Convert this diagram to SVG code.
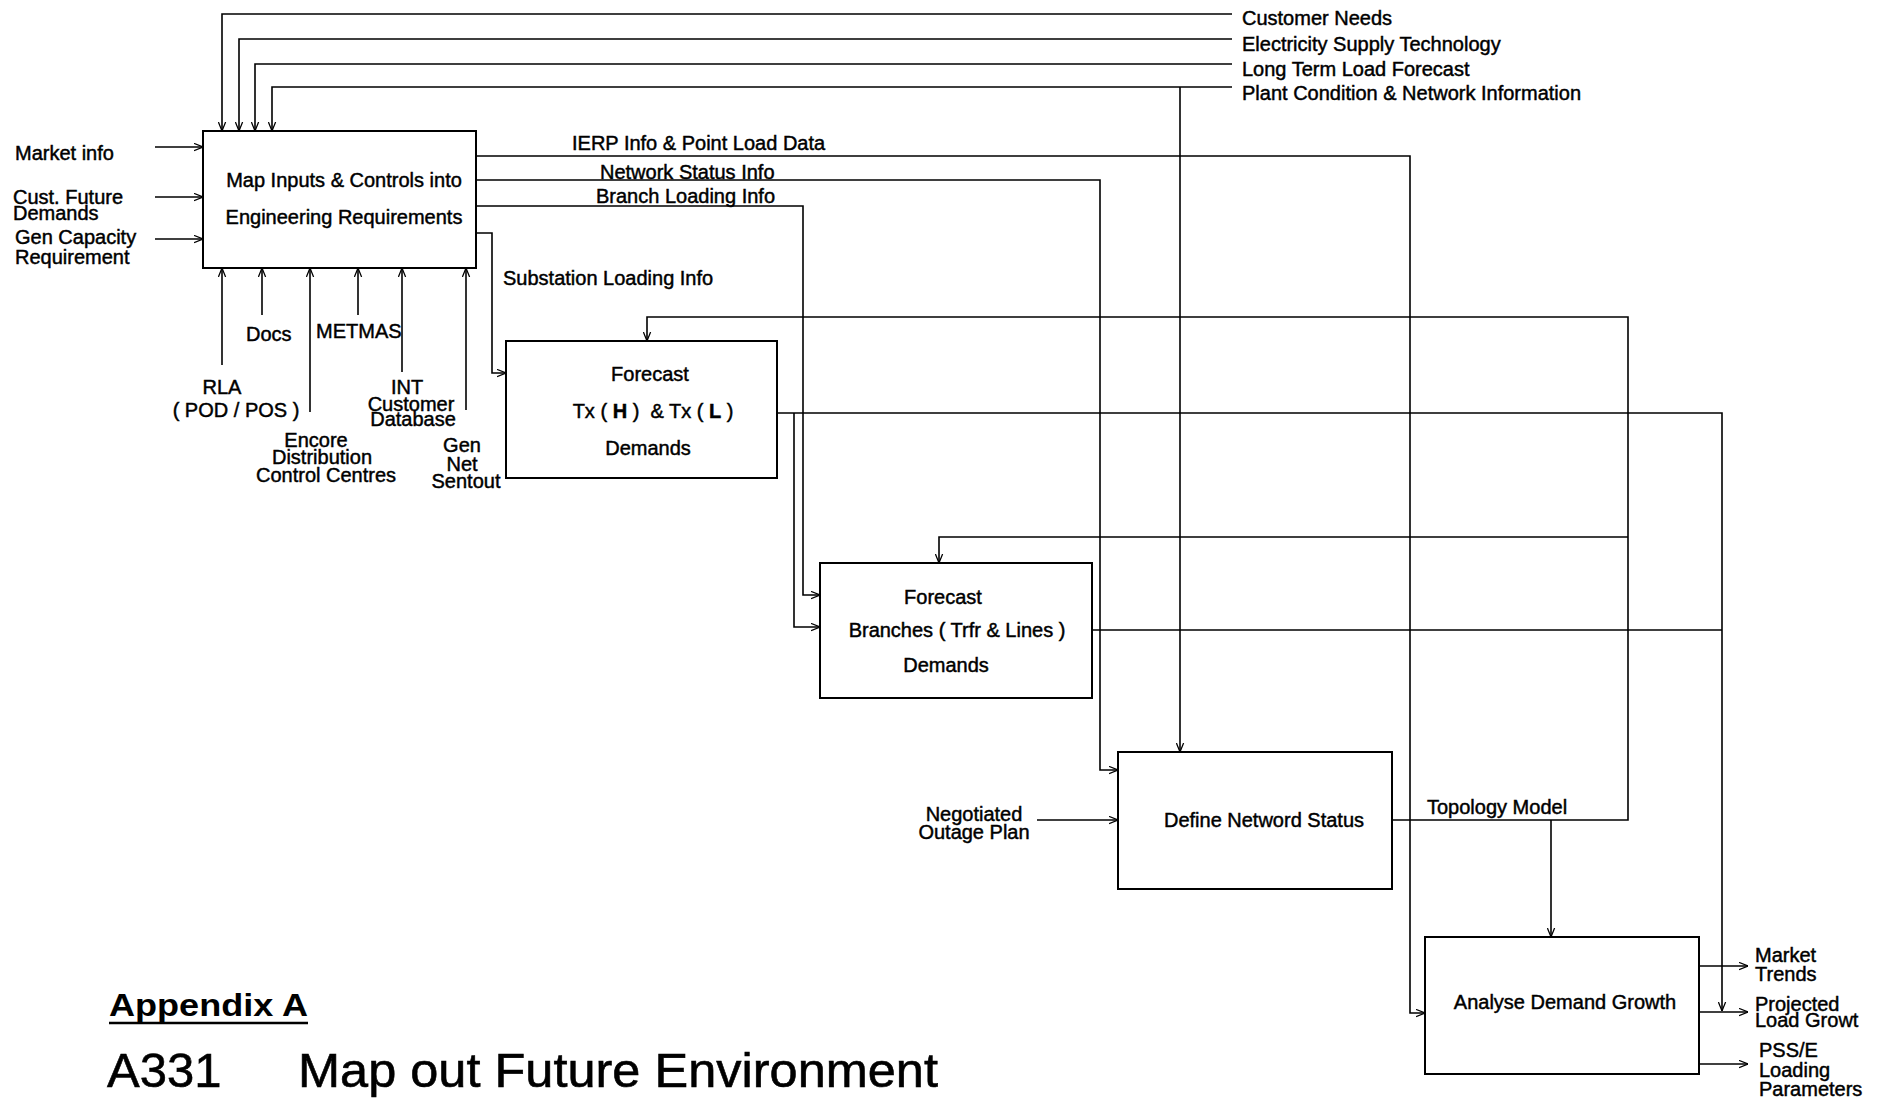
<svg xmlns="http://www.w3.org/2000/svg" width="1879" height="1103" viewBox="0 0 1879 1103">
  <style>
    .bg { fill: #ffffff; }
    .box { fill: #ffffff; stroke: #000000; stroke-width: 2; }
    .ln { fill: none; stroke: #000000; stroke-width: 1.6; }
    .arw { marker-end: url(#arr); }
    text { font-family: "Liberation Sans", Arial, sans-serif; font-size: 20px; fill: #000000; stroke: #000000; stroke-width: 0.45; }
    .mid { text-anchor: middle; }
    .title { font-size: 49px; stroke-width: 0.6; }
    .appx { font-size: 32px; font-weight: bold; stroke-width: 0; }
  </style>
  <defs>
    <marker id="arr" viewBox="0 0 10 10" refX="10" refY="5" markerWidth="9" markerHeight="9" markerUnits="userSpaceOnUse" orient="auto">
      <path d="M0,1 L10,5 L0,9" fill="none" stroke="#000000" stroke-width="1.4"/>
    </marker>
  </defs>

  <rect class="bg" x="0" y="0" width="1879" height="1103"/>

  <!-- connectors -->
  <g id="connectors">
    <!-- controls entering the first activity from the top -->
    <path class="ln arw" d="M1232 14 H222 V131"/>
    <path class="ln arw" d="M1232 39 H239 V131"/>
    <path class="ln arw" d="M1232 64 H255 V131"/>
    <path class="ln arw" d="M1232 87 H272 V131"/>
    <path class="ln arw" d="M1180 87 V752"/>

    <!-- inputs from the left -->
    <path class="ln arw" d="M155 147 H203"/>
    <path class="ln arw" d="M155 197 H203"/>
    <path class="ln arw" d="M155 239 H203"/>

    <!-- mechanisms from below -->
    <path class="ln arw" d="M222 365 V268"/>
    <path class="ln arw" d="M262 315 V268"/>
    <path class="ln arw" d="M310 412 V268"/>
    <path class="ln arw" d="M358 315 V268"/>
    <path class="ln arw" d="M402 372 V268"/>
    <path class="ln arw" d="M466 410 V268"/>

    <!-- outputs of the first activity -->
    <path class="ln arw" d="M476 156 H1410 V1013 H1425"/>
    <path class="ln arw" d="M476 180 H1100 V770 H1118"/>
    <path class="ln arw" d="M476 206 H803 V595 H820"/>
    <path class="ln arw" d="M476 233 H492 V373 H506"/>

    <!-- Tx demand forecast output -->
    <path class="ln arw" d="M777 413 H1722 V1011"/>
    <path class="ln arw" d="M794 413 V627 H820"/>

    <!-- branch demand forecast output -->
    <path class="ln" d="M1092 630 H1722"/>

    <!-- topology model feedback -->
    <path class="ln arw" d="M1392 820 H1628 V317 H647 V341"/>
    <path class="ln arw" d="M1628 537 H939 V563"/>
    <path class="ln arw" d="M1551 820 V937"/>

    <!-- outage plan input -->
    <path class="ln arw" d="M1037 820 H1118"/>

    <!-- final outputs -->
    <path class="ln arw" d="M1699 966 H1748"/>
    <path class="ln arw" d="M1699 1012 H1748"/>
    <path class="ln arw" d="M1699 1064 H1748"/>
  </g>

  <!-- activity boxes -->
  <g id="map-inputs">
    <rect class="box" x="203" y="131" width="273" height="137"/>
    <text class="mid" x="344" y="187">Map Inputs &amp; Controls into</text>
    <text class="mid" x="344" y="224">Engineering Requirements</text>
  </g>

  <g id="forecast-tx">
    <rect class="box" x="506" y="341" width="271" height="137"/>
    <text class="mid" x="650" y="381">Forecast</text>
    <text class="mid" x="653" y="418" xml:space="preserve">Tx ( <tspan font-weight="bold">H</tspan> )  &amp; Tx ( <tspan font-weight="bold">L</tspan> )</text>
    <text class="mid" x="648" y="455">Demands</text>
  </g>

  <g id="forecast-branches">
    <rect class="box" x="820" y="563" width="272" height="135"/>
    <text class="mid" x="943" y="604">Forecast</text>
    <text class="mid" x="957" y="637">Branches ( Trfr &amp; Lines )</text>
    <text class="mid" x="946" y="672">Demands</text>
  </g>

  <g id="define-network">
    <rect class="box" x="1118" y="752" width="274" height="137"/>
    <text class="mid" x="1264" y="827">Define Netword Status</text>
  </g>

  <g id="analyse-demand">
    <rect class="box" x="1425" y="937" width="274" height="137"/>
    <text class="mid" x="1565" y="1009">Analyse Demand Growth</text>
  </g>

  <!-- connector labels -->
  <g id="labels">
    <text x="1242" y="25">Customer Needs</text>
    <text x="1242" y="51">Electricity Supply Technology</text>
    <text x="1242" y="76">Long Term Load Forecast</text>
    <text x="1242" y="100">Plant Condition &amp; Network Information</text>

    <text x="15" y="160">Market info</text>
    <text x="13" y="204">Cust. Future</text>
    <text x="13" y="220">Demands</text>
    <text x="15" y="244">Gen Capacity</text>
    <text x="15" y="264">Requirement</text>

    <text x="572" y="150">IERP Info &amp; Point Load Data</text>
    <text x="600" y="179">Network Status Info</text>
    <text x="596" y="203">Branch Loading Info</text>
    <text x="503" y="285">Substation Loading Info</text>

    <text x="246" y="341">Docs</text>
    <text x="316" y="338">METMAS</text>
    <text class="mid" x="222" y="394">RLA</text>
    <text class="mid" x="236" y="417">( POD / POS )</text>
    <text class="mid" x="407" y="394">INT</text>
    <text class="mid" x="411" y="411">Customer</text>
    <text class="mid" x="413" y="426">Database</text>
    <text class="mid" x="316" y="447">Encore</text>
    <text class="mid" x="322" y="464">Distribution</text>
    <text class="mid" x="326" y="482">Control Centres</text>
    <text class="mid" x="462" y="452">Gen</text>
    <text class="mid" x="462" y="471">Net</text>
    <text class="mid" x="466" y="488">Sentout</text>

    <text x="1427" y="814">Topology Model</text>
    <text class="mid" x="974" y="821">Negotiated</text>
    <text class="mid" x="974" y="839">Outage Plan</text>

    <text x="1755" y="962">Market</text>
    <text x="1755" y="981">Trends</text>
    <text x="1755" y="1011">Projected</text>
    <text x="1755" y="1027">Load Growt</text>
    <text x="1759" y="1057">PSS/E</text>
    <text x="1759" y="1077">Loading</text>
    <text x="1759" y="1096">Parameters</text>
  </g>

  <!-- page heading -->
  <g id="heading">
    <text class="appx" x="109" y="1016" textLength="199" lengthAdjust="spacingAndGlyphs">Appendix A</text>
    <line x1="109" y1="1023" x2="308" y2="1023" stroke="#000000" stroke-width="2.5"/>
    <text class="title" x="107" y="1087">A331</text>
    <text class="title" x="298" y="1087" textLength="640" lengthAdjust="spacingAndGlyphs">Map out Future Environment</text>
  </g>
</svg>
